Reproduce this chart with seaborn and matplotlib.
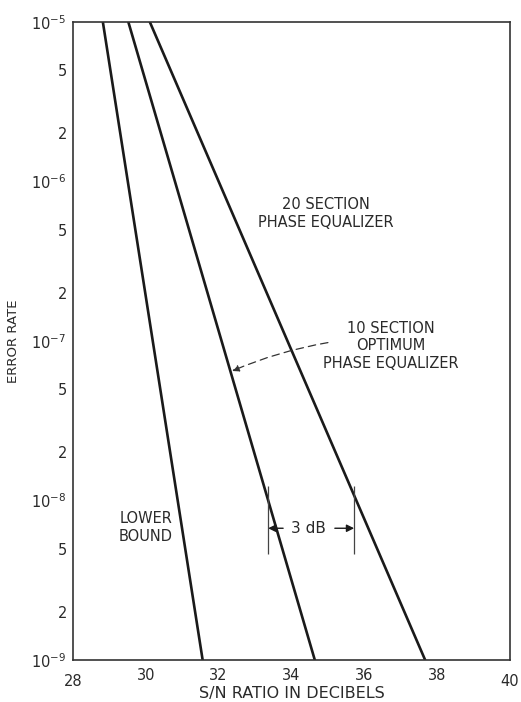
import numpy as np
import pandas as pd
import matplotlib
matplotlib.use("Agg")
import matplotlib.pyplot as plt
from matplotlib.ticker import FixedLocator, FixedFormatter, NullFormatter
import seaborn as sns

# ---- data ----
series_names = ["LOWER BOUND", "10 SECTION OPTIMUM", "20 SECTION"]
lower_snr = [28.82, 31.56]
optimum_snr = [29.52, 34.64]
twenty_snr = [30.11, 37.67]
error_rate = [1e-5, 1e-9]

x_ticks = [30, 32, 34, 36, 38]
x_ticklabels = ["30", "32", "34", "36", "38"]
x_range = [28, 40]
y_major = [1e-9, 1e-8, 1e-7, 1e-6, 1e-5]
y_major_labels = [r"$10^{-9}$", r"$10^{-8}$", r"$10^{-7}$", r"$10^{-6}$", r"$10^{-5}$"]
y_minor = [2e-9, 5e-9, 2e-8, 5e-8, 2e-7, 5e-7, 2e-6, 5e-6]
y_minor_labels = ["2", "5", "2", "5", "2", "5", "2", "5"]

# 3 dB annotation
db_marks = [33.36, 35.72]
db_span = [10 ** -7.91, 10 ** -8.335]
db_level = 10 ** -8.174
db_arrow_tails = [33.77, 35.19]
db_text_x = 34.47

rows = []
for name, xs in zip(series_names, [lower_snr, optimum_snr, twenty_snr]):
    for x, y in zip(xs, error_rate):
        rows.append({"series": name, "snr": x, "err": y})
df = pd.DataFrame(rows)

sns.set_style("white")
plt.rcParams["font.family"] = ["DejaVu Sans"]
ink = "#1a1a1a"
txt = "#2a2a2a"

fig = plt.figure(figsize=(5.21, 7.02), dpi=100)
ax = fig.add_axes([73 / 521, 1 - 660 / 702, (510 - 73) / 521, (660 - 22) / 702])

sns.lineplot(data=df, x="snr", y="err", hue="series", units="series",
             estimator=None, palette=[ink, ink, ink], legend=False,
             linewidth=1.9, ax=ax, sort=False)

ax.set_yscale("log")
ax.set_xlim(*x_range)
ax.set_ylim(min(error_rate), max(error_rate))

ax.xaxis.set_major_locator(FixedLocator(x_ticks))
ax.xaxis.set_major_formatter(FixedFormatter(x_ticklabels))
ax.xaxis.set_minor_locator(FixedLocator([]))
ax.yaxis.set_major_locator(FixedLocator(y_major))
ax.yaxis.set_major_formatter(FixedFormatter(y_major_labels))
ax.yaxis.set_minor_locator(FixedLocator(y_minor))
ax.yaxis.set_minor_formatter(FixedFormatter(y_minor_labels))

ax.tick_params(axis="x", which="major", direction="in", length=8, width=0.9,
               color="#444444", labelsize=10.5, pad=6, labelcolor=txt)
ax.tick_params(axis="y", which="major", direction="in", length=14, width=1.0,
               color="#444444", labelsize=10.5, pad=5, labelcolor=txt)
ax.tick_params(axis="y", which="minor", direction="in", length=9, width=1.0,
               color="#444444", labelsize=10.5, pad=4, labelcolor=txt)

# extra x-tick labels at the axis ends (28 and 40)
for xv in x_range:
    ax.text(xv, -0.022, str(xv), transform=ax.get_xaxis_transform(),
            ha="center", va="top", fontsize=10.5, color=txt)

for s in ax.spines.values():
    s.set_color("#333333")
    s.set_linewidth(1.2)

ax.set_xlabel("S/N RATIO IN DECIBELS", fontsize=11.5, color=txt, labelpad=2)
ax.set_ylabel("ERROR RATE", fontsize=9.5, color=txt, labelpad=8)

# curve labels
ax.text(34.95, 10 ** -6.2, "20 SECTION\nPHASE EQUALIZER", ha="center", va="center",
        fontsize=10.5, color=txt, linespacing=1.2)
ax.text(36.72, 10 ** -7.03, "10 SECTION\nOPTIMUM\nPHASE EQUALIZER", ha="center",
        va="center", fontsize=10.5, color=txt, linespacing=1.2)
ax.text(30.0, 10 ** -8.17, "LOWER\nBOUND", ha="center", va="center",
        fontsize=10.5, color=txt, linespacing=1.2)

ax.annotate("", xy=(32.37, 10 ** -7.188), xytext=(35.0, 10 ** -7.01),
            arrowprops=dict(arrowstyle="-|>", linestyle=(0, (6, 4)), lw=0.9,
                            color="#333333", connectionstyle="arc3,rad=0.06",
                            shrinkA=0, shrinkB=0, mutation_scale=10))

# 3 dB markers
ax.vlines(db_marks, db_span[1], db_span[0], colors="#444444", linewidth=0.9)
for xm, xt in zip(db_marks, db_arrow_tails):
    ax.annotate("", xy=(xm, db_level), xytext=(xt, db_level),
                arrowprops=dict(arrowstyle="-|>", lw=1.0, color=ink,
                                shrinkA=0, shrinkB=0, mutation_scale=11))
ax.text(db_text_x, db_level, "3 dB", ha="center", va="center", fontsize=11, color=txt)

fig.savefig("out.png", dpi=100)
